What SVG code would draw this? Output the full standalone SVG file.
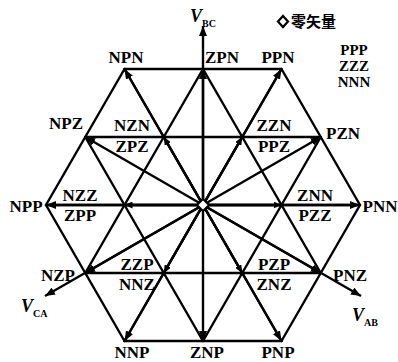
<svg xmlns="http://www.w3.org/2000/svg" width="398" height="362" viewBox="0 0 398 362">
<defs>
<marker id="ah" markerUnits="userSpaceOnUse" markerWidth="11" markerHeight="8" refX="10" refY="4" orient="auto">
<path d="M0,0 L10,4 L0,8 z" fill="#000"/>
</marker>
<marker id="as" markerUnits="userSpaceOnUse" markerWidth="9" markerHeight="7" refX="8" refY="3.5" orient="auto">
<path d="M0,0 L8,3.5 L0,7 z" fill="#000"/>
</marker>
<style>
.g{stroke:#000;stroke-width:2.4;fill:none;stroke-linecap:round}
.v{stroke:#000;stroke-width:2.4;fill:none;marker-end:url(#ah)}
.s{stroke:#000;stroke-width:2.4;fill:none;marker-end:url(#as)}
text{font-family:"Liberation Serif","Times New Roman",serif;font-weight:bold;font-size:17px;fill:#000}
.m{text-anchor:middle}
.lg{font-size:15px}
.it{font-style:italic;font-size:18px}
.sub{font-size:10px;font-style:normal}
.cn{font-family:"Noto Sans CJK SC","Noto Sans CJK JP",sans-serif;font-size:15px;font-weight:bold}
</style>
</defs>
<rect width="398" height="362" fill="#fff"/>
<g id="connectors">
<line class="g" x1="124.5" y1="69" x2="281.5" y2="69"/>
<line class="g" x1="85.25" y1="137" x2="320.75" y2="137"/>
<line class="g" x1="46" y1="205" x2="360" y2="205"/>
<line class="g" x1="85.25" y1="273" x2="320.75" y2="273"/>
<line class="g" x1="124.5" y1="341" x2="281.5" y2="341"/>
<line class="g" x1="46" y1="205" x2="124.5" y2="69"/>
<line class="g" x1="85.25" y1="273" x2="203" y2="69"/>
<line class="g" x1="124.5" y1="341" x2="281.5" y2="69"/>
<line class="g" x1="203" y1="341" x2="320.75" y2="137"/>
<line class="g" x1="281.5" y1="341" x2="360" y2="205"/>
<line class="g" x1="360" y1="205" x2="281.5" y2="69"/>
<line class="g" x1="320.75" y1="273" x2="203" y2="69"/>
<line class="g" x1="281.5" y1="341" x2="124.5" y2="69"/>
<line class="g" x1="203" y1="341" x2="85.25" y2="137"/>
<line class="g" x1="124.5" y1="341" x2="46" y2="205"/>
<line class="v" x1="203" y1="205" x2="203" y2="26"/>
<line class="v" x1="203" y1="205" x2="361" y2="296"/>
<line class="v" x1="203" y1="205" x2="45" y2="296"/>
<line class="v" x1="203" y1="205" x2="124.5" y2="69"/>
<line class="v" x1="203" y1="205" x2="281.5" y2="69"/>
<line class="v" x1="203" y1="205" x2="360" y2="205"/>
<line class="v" x1="203" y1="205" x2="281.5" y2="341"/>
<line class="v" x1="203" y1="205" x2="124.5" y2="341"/>
<line class="v" x1="203" y1="205" x2="46" y2="205"/>
<line class="v" x1="203" y1="205" x2="203" y2="69"/>
<line class="v" x1="203" y1="205" x2="320.75" y2="137"/>
<line class="v" x1="203" y1="205" x2="320.75" y2="273"/>
<line class="v" x1="203" y1="205" x2="203" y2="341"/>
<line class="v" x1="203" y1="205" x2="85.25" y2="273"/>
<line class="v" x1="203" y1="205" x2="85.25" y2="137"/>
<line class="s" x1="203" y1="205" x2="163.75" y2="137"/>
<line class="s" x1="203" y1="205" x2="242.25" y2="137"/>
<line class="s" x1="203" y1="205" x2="281.5" y2="205"/>
<line class="s" x1="203" y1="205" x2="242.25" y2="273"/>
<line class="s" x1="203" y1="205" x2="163.75" y2="273"/>
<line class="s" x1="203" y1="205" x2="124.5" y2="205"/>
</g>
<g id="zero"><polygon points="203,199 209,205 203,211 197,205" fill="#fff" stroke="#000" stroke-width="2"/></g>
<g id="legend">
<polygon points="283,16 288,21.5 283,27 278,21.5" fill="#fff" stroke="#000" stroke-width="2.2"/>
<text class="cn" x="291" y="27">零矢量</text>
</g>
<g id="zero-labels">
<text class="m lg" x="354" y="55">PPP</text>
<text class="m lg" x="354" y="71">ZZZ</text>
<text class="m lg" x="354" y="87">NNN</text>
</g>
<g id="axis-bc"><text class="it" x="190" y="22">V<tspan class="sub" dy="5">BC</tspan></text></g>
<g id="axis-ab"><text class="it" x="352" y="321">V<tspan class="sub" dy="5">AB</tspan></text></g>
<g id="axis-ca"><text class="it" x="21" y="312">V<tspan class="sub" dy="5">CA</tspan></text></g>
<g id="NPN"><text class="m" x="126" y="63">NPN</text></g>
<g id="ZPN"><text class="m" x="222" y="63">ZPN</text></g>
<g id="PPN"><text class="m" x="278" y="63">PPN</text></g>
<g id="NPZ"><text class="m" x="66" y="129">NPZ</text></g>
<g id="PZN"><text class="m" x="343" y="139">PZN</text></g>
<g id="NPP"><text class="m" x="26" y="212">NPP</text></g>
<g id="PNN"><text class="m" x="380" y="212">PNN</text></g>
<g id="NZP"><text class="m" x="58" y="281">NZP</text></g>
<g id="PNZ"><text class="m" x="350" y="281">PNZ</text></g>
<g id="NNP"><text class="m" x="132" y="358">NNP</text></g>
<g id="ZNP"><text class="m" x="207" y="358">ZNP</text></g>
<g id="PNP"><text class="m" x="278" y="358">PNP</text></g>
<g id="NZN-ZPZ"><text class="m" x="132" y="131">NZN</text><text class="m" x="132" y="152">ZPZ</text></g>
<g id="ZZN-PPZ"><text class="m" x="274" y="131">ZZN</text><text class="m" x="274" y="152">PPZ</text></g>
<g id="NZZ-ZPP"><text class="m" x="80" y="201">NZZ</text><text class="m" x="80" y="221">ZPP</text></g>
<g id="ZNN-PZZ"><text class="m" x="315" y="201">ZNN</text><text class="m" x="315" y="221">PZZ</text></g>
<g id="ZZP-NNZ"><text class="m" x="137" y="270">ZZP</text><text class="m" x="137" y="290">NNZ</text></g>
<g id="PZP-ZNZ"><text class="m" x="274" y="270">PZP</text><text class="m" x="274" y="290">ZNZ</text></g>
</svg>
